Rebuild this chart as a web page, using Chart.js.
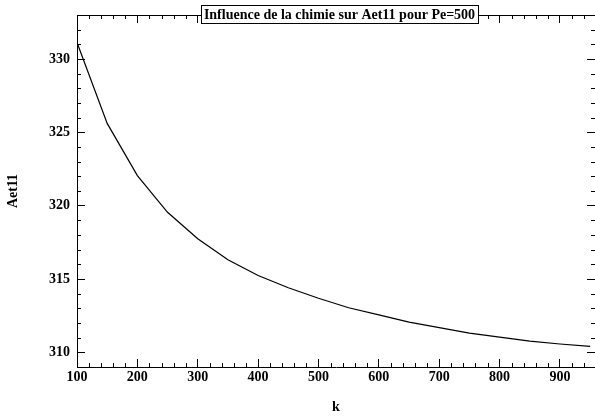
<!DOCTYPE html>
<html><head><meta charset="utf-8">
<script src="https://cdn.jsdelivr.net/npm/chart.js@4/dist/chart.umd.min.js"></script>
<style>html,body{margin:0;padding:0;background:#fff}#wrap{width:595px;height:416px;position:relative}</style>
</head><body><div id="wrap"><canvas id="c"></canvas></div>
<script>
const titleText = 'Influence de la chimie sur Aet11 pour Pe=500';
const xLabel = 'k';
const yLabel = 'Aet11';
const kValues = [100,150,200,250,300,350,400,450,500,550,600,650,700,750,800,850,900,950];
const aet11Values = [331.13,325.61,322.05,319.55,317.74,316.31,315.24,314.40,313.69,313.04,312.55,312.06,311.68,311.31,311.04,310.76,310.57,310.40];
const xTickValues = [100,200,300,400,500,600,700,800,900];
const yTickValues = [310,315,320,325,330];
const xRange = [100, 958];
const yRange = [309, 333];

const FONT = '"Liberation Serif","Times New Roman",serif';
const BLACK = '#000';

function setTicks(list){ return function(scale){ scale.ticks = list.map(v => ({value: v})); }; }
function fixSize(w, h){
  return function(s){
    if (w !== null) s.width = w;
    if (h !== null) s.height = h;
    s.paddingTop = 0; s.paddingBottom = 0; s.paddingLeft = 0; s.paddingRight = 0;
  };
}

const minorTicks = {
  id: 'minorTicks',
  afterDraw(chart){
    const ctx = chart.ctx, a = chart.chartArea, xs = chart.scales.x, ys = chart.scales.y;
    ctx.save();
    ctx.strokeStyle = BLACK; ctx.lineWidth = 1;
    ctx.beginPath();
    for (let v = xRange[0]; v <= xRange[1]; v += 20) {
      if (v % 100 === 0) continue;
      const px = Math.round(xs.getPixelForValue(v)) + 0.5;
      ctx.moveTo(px, a.bottom); ctx.lineTo(px, a.bottom - 4);
      ctx.moveTo(px, a.top); ctx.lineTo(px, a.top + 4);
    }
    for (let v = Math.ceil(yRange[0]); v <= yRange[1]; v += 1) {
      if (v % 5 === 0) continue;
      const py = Math.round(ys.getPixelForValue(v)) + 0.5;
      ctx.moveTo(a.left, py); ctx.lineTo(a.left + 4, py);
      ctx.moveTo(a.right, py); ctx.lineTo(a.right - 4, py);
    }
    ctx.stroke();
    ctx.restore();
  }
};

const boxedTitle = {
  id: 'boxedTitle',
  afterDraw(chart){
    const ctx = chart.ctx;
    ctx.save();
    ctx.font = 'bold 14px ' + FONT;
    const w = ctx.measureText(titleText).width;
    const cx = 339.5, top = 5, h = 18;
    const x0 = Math.round(cx - w/2 - 3) + 0.5;
    const x1 = Math.round(cx + w/2 + 3) + 0.5;
    ctx.fillStyle = '#fff';
    ctx.fillRect(x0, top + 0.5, x1 - x0, h);
    ctx.strokeStyle = BLACK; ctx.lineWidth = 1;
    ctx.strokeRect(x0, top + 0.5, x1 - x0, h);
    ctx.fillStyle = BLACK;
    ctx.textAlign = 'center'; ctx.textBaseline = 'middle';
    ctx.fillText(titleText, cx, top + h/2 + 1);
    ctx.restore();
  }
};

const gridCommon = { drawOnChartArea: false, drawTicks: true, tickLength: -8, color: BLACK, tickColor: BLACK, tickWidth: 1 };
const borderCommon = { display: true, color: BLACK, width: 1 };

new Chart(document.getElementById('c'), {
  type: 'line',
  data: {
    datasets: [{
      data: kValues.map((k, i) => ({x: k, y: aet11Values[i]})),
      borderColor: BLACK,
      borderWidth: 1.2,
      pointRadius: 0,
      tension: 0,
      fill: false
    }]
  },
  options: {
    responsive: true,
    maintainAspectRatio: false,
    animation: false,
    layout: { padding: 0 },
    plugins: { legend: { display: false }, tooltip: { enabled: false }, title: { display: false } },
    scales: {
      x: {
        type: 'linear', position: 'bottom', min: xRange[0], max: xRange[1],
        afterBuildTicks: setTicks(xTickValues),
        afterFit: fixSize(null, 49),
        grid: gridCommon, border: borderCommon,
        ticks: { autoSkip: false, maxRotation: 0, padding: 10, color: BLACK, font: { family: FONT, size: 14, weight: 'bold' } },
        title: { display: true, text: xLabel, color: BLACK, padding: { top: 0, bottom: 0 }, font: { family: FONT, size: 14, weight: 'bold' } }
      },
      x2: {
        type: 'linear', position: 'top', min: xRange[0], max: xRange[1],
        afterBuildTicks: setTicks(xTickValues),
        afterFit: fixSize(null, 15),
        grid: gridCommon, border: borderCommon,
        ticks: { display: false }
      },
      y: {
        type: 'linear', position: 'left', min: yRange[0], max: yRange[1],
        afterBuildTicks: setTicks(yTickValues),
        afterFit: fixSize(77, null),
        grid: gridCommon, border: borderCommon,
        ticks: { autoSkip: false, padding: 15, color: BLACK, font: { family: FONT, size: 14, weight: 'bold' } },
        title: { display: true, text: yLabel, color: BLACK, padding: { top: 5, bottom: 0 }, font: { family: FONT, size: 14, weight: 'bold' } }
      },
      y2: {
        type: 'linear', position: 'right', min: yRange[0], max: yRange[1],
        afterBuildTicks: setTicks(yTickValues),
        afterFit: fixSize(0, null),
        grid: gridCommon, border: borderCommon,
        ticks: { display: false }
      }
    }
  },
  plugins: [minorTicks, boxedTitle]
});
</script>
</body></html>
